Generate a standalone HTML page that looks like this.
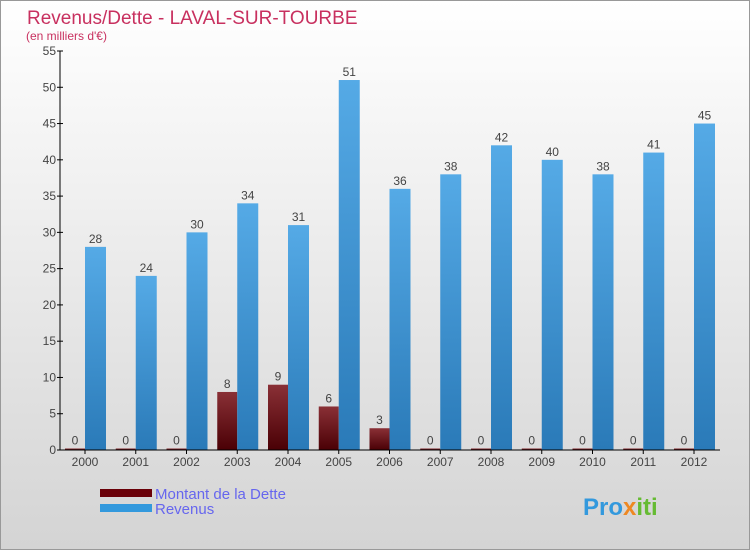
<!DOCTYPE html>
<html><head><meta charset="utf-8"><style>
html,body{margin:0;padding:0}
body{width:750px;height:550px;overflow:hidden;font-family:"Liberation Sans",sans-serif}
</style></head><body>
<svg width="750" height="550" xmlns="http://www.w3.org/2000/svg">
<defs>
<linearGradient id="bg" x1="0" y1="0" x2="0" y2="1"><stop offset="0" stop-color="#ffffff"/><stop offset="1" stop-color="#d4d4d4"/></linearGradient>
<linearGradient id="gb" x1="0" y1="0" x2="0" y2="1"><stop offset="0" stop-color="#55aae6"/><stop offset="1" stop-color="#2a7ab8"/></linearGradient>
<linearGradient id="gd" x1="0" y1="0" x2="0" y2="1"><stop offset="0" stop-color="#8a3036"/><stop offset="1" stop-color="#4a0005"/></linearGradient>
</defs>
<rect x="0.5" y="0.5" width="749" height="549" fill="url(#bg)" stroke="#999"/>
<text x="27" y="24" font-size="19" fill="#c8305f">Revenus/Dette - LAVAL-SUR-TOURBE</text>
<text x="26" y="40" font-size="12" fill="#c8305f">(en milliers d'€)</text>
<g id="plot"></g>
<rect x="100" y="489" width="52" height="8" fill="#6a0008"/>
<text x="155" y="499" font-size="15" fill="#6666ee">Montant de la Dette</text>
<rect x="100" y="504" width="52" height="8" fill="#3399dd"/>
<text x="155" y="514" font-size="15" fill="#6666ee">Revenus</text>
<text x="583" y="515" font-size="24" font-weight="bold" fill="#3399dd">Pro<tspan fill="#ee8822">x</tspan><tspan fill="#66bb33">iti</tspan></text>
</svg>
<script>
const years=["2000","2001","2002","2003","2004","2005","2006","2007","2008","2009","2010","2011","2012"];
const dette=[0,0,0,8,9,6,3,0,0,0,0,0,0];
const revenus=[28,24,30,34,31,51,36,38,42,40,38,41,45];
const yTicks=[0,5,10,15,20,25,30,35,40,45,50,55];
const NS="http://www.w3.org/2000/svg";
const g=document.getElementById('plot');
const y0=450,yTop=51,yMax=55;
const yS=v=>y0-v*(y0-yTop)/yMax;
const xC=i=>85+i*50.75;
function mk(t,a,txt){const e=document.createElementNS(NS,t);for(const k in a)e.setAttribute(k,a[k]);if(txt!==undefined)e.textContent=txt;g.appendChild(e);return e;}
yTicks.forEach(v=>{
 const l=mk('line',{x1:57,x2:63,y1:yS(v),y2:yS(v),stroke:'#000'});
 
 
 const t=mk('text',{x:56,y:yS(v)+4,'font-size':12,fill:'#444','text-anchor':'end'},v);
 
 
});
years.forEach((yr,i)=>{
 const c=xC(i);
 const hd=Math.max(dette[i]*(y0-yTop)/yMax,1.5);
 const d=mk('rect',{x:c-20,y:y0-hd,width:20,height:hd,fill:'url(#gd)'});
 
 
 const dl=mk('text',{x:c-10,y:y0-hd-4,'font-size':12,fill:'#444','text-anchor':'middle'},dette[i]);
 
 
 const r=mk('rect',{x:c,y:yS(revenus[i]),width:21,height:y0-yS(revenus[i]),fill:'url(#gb)'});
 
 
 const rl=mk('text',{x:c+10.5,y:yS(revenus[i])-4,'font-size':12,fill:'#444','text-anchor':'middle'},revenus[i]);
 
 
 const tk=mk('line',{x1:c,x2:c,y1:y0,y2:y0+4,stroke:'#000'});
 
 
 const xl=mk('text',{x:c,y:y0+16,'font-size':12,fill:'#444','text-anchor':'middle'},yr);
 
 
});
const ya=mk('line',{x1:60,x2:60,y1:yTop,y2:y0,stroke:'#000'});


const xa=mk('line',{x1:60,x2:720,y1:y0,y2:y0,stroke:'#000'});


</script>
</body></html>
